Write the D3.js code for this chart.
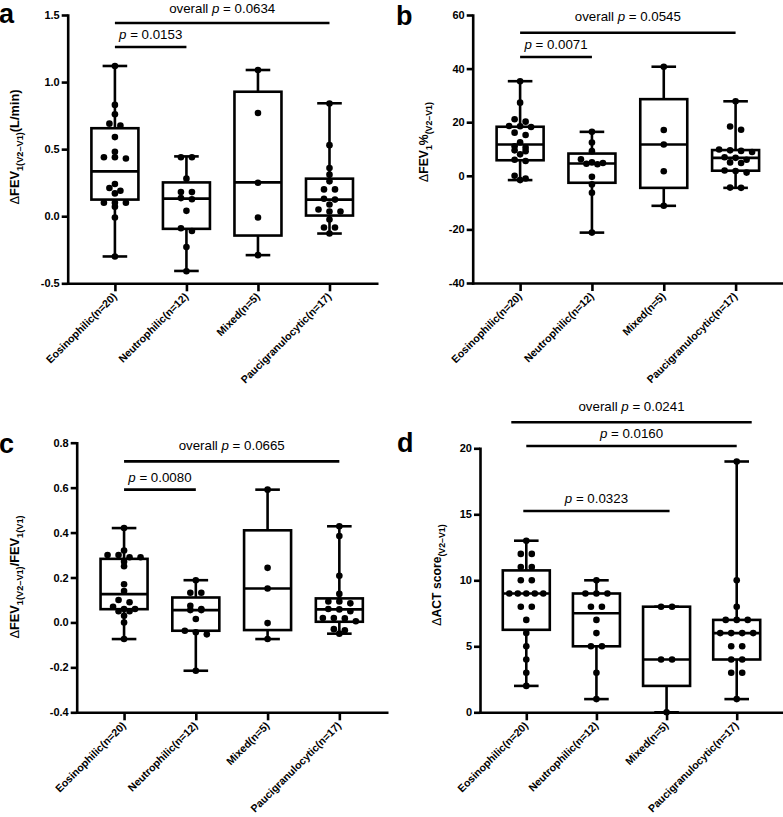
<!DOCTYPE html>
<html><head><meta charset="utf-8">
<script src="https://cdn.jsdelivr.net/npm/d3@7"></script>
<style>
body{margin:0;background:#fff}
svg{display:block}
text{font-family:"Liberation Sans",Arial,Helvetica,sans-serif;fill:#000}
</style></head><body>
<svg id="chart" width="783" height="817"></svg>
<script>
// ---------- DATA ----------
const categories = ["Eosinophilic(n=20)","Neutrophilic(n=12)","Mixed(n=5)","Paucigranulocytic(n=17)"];

// Panel a: ΔFEV1 (L/min)
const fev1Eos = [1.12,0.83,0.76,0.69,0.675,0.59,0.48,0.44,0.44,0.43,0.24,0.21,0.19,0.17,0.10,0.10,0.10,0.07,-0.01,-0.30];
const fev1Neu = [0.44,0.44,0.28,0.18,0.18,0.135,0.127,0.04,-0.09,-0.11,-0.23,-0.41];
const fev1Mix = [1.09,0.77,0.25,-0.01,-0.29];
const fev1Pau = [0.84,0.53,0.36,0.31,0.26,0.20,0.20,0.13,0.124,0.087,0.05,0.035,0.035,-0.025,-0.084,-0.084,-0.129];
// [min, q1, median, q3, max]
const fev1Box = [[-0.30,0.124,0.334,0.656,1.12],[-0.408,-0.094,0.131,0.252,0.446],[-0.29,-0.144,0.252,0.928,1.09],[-0.129,0.005,0.124,0.28,0.842]];
const fev1Ticks = [-0.5,0,0.5,1.0,1.5];
const fev1TickLabels = ["-0.5","0.0","0.5","1.0","1.5"];
const fev1Annot = [{from:0,to:3,y:1.44,overall:true,p:"0.0634",gap:10.4},{from:0,to:1,y:1.262,overall:false,p:"0.0153"}];

// Panel b: ΔFEV1 %
const pctEos = [35.3,27.3,21.1,20.2,18.6,18.5,18.2,16.1,15.2,12.5,11,10.5,9.5,9.2,8,6,5.5,0,-1,-1.6];
const pctNeu = [16.4,12.4,9.2,6.2,5,4.8,4.5,4.3,-0.4,-3.2,-6.3,-21.2];
const pctMix = [40.7,17.1,11.7,1.7,-11.2];
const pctPau = [27.8,18.4,17.2,9.8,9.5,9.3,8.9,6.9,6.7,6.0,5.0,4.8,2.0,1.8,1.2,-4.4,-4.5];
const pctBox = [[-1.6,5.8,11.7,18.3,35.3],[-21.2,-2.6,4.6,8.3,16.4],[-11.2,-4.5,11.7,28.6,40.7],[-4.5,1.9,6.7,9.6,27.8]];
const pctTicks = [-40,-20,0,20,40,60];
const pctTickLabels = ["-40","-20","0","20","40","60"];
const pctAnnot = [{from:0,to:3,y:53.4,overall:true,p:"0.0545"},{from:0,to:1,y:44.35,overall:false,p:"0.0071"}];

// Panel c: ΔFEV1/FEV1(V1)
const ratioEos = [0.42,0.32,0.30,0.30,0.29,0.29,0.27,0.25,0.17,0.14,0.10,0.09,0.07,0.06,0.06,0.05,0.05,0.03,0.00,-0.074];
const ratioNeu = [0.188,0.132,0.132,0.074,0.06,0.055,0.055,0.015,-0.037,-0.044,-0.053,-0.215];
const ratioMix = [0.591,0.243,0.151,-0.003,-0.074];
const ratioPau = [0.428,0.385,0.208,0.127,0.093,0.093,0.085,0.06,0.058,0.05,0.02,0.02,0.018,0.005,-0.03,-0.035,-0.05];
const ratioBox = [[-0.074,0.059,0.126,0.283,0.42],[-0.215,-0.037,0.055,0.111,0.188],[-0.074,-0.034,0.151,0.41,0.591],[-0.05,0.003,0.058,0.107,0.428]];
const ratioTicks = [-0.4,-0.2,0,0.2,0.4,0.6,0.8];
const ratioTickLabels = ["-0.4","-0.2","0.0","0.2","0.4","0.6","0.8"];
const ratioAnnot = [{from:0,to:3,y:0.717,overall:true,p:"0.0665"},{from:0,to:1,y:0.591,overall:false,p:"0.0080"}];

// Panel d: ΔACT score
const actEos = [13,12,12,11,11,10,10,9,9,9,9,9,8,8,7,6,5,4,3,2];
const actNeu = [10,9,9,9,8,8,7,6,5,5,3,1];
const actMix = [8,8,4,4,0];
const actPau = [19,10,8,7,7,7,6,6,6,6,5,5,4,4,3,3,1];
const actBox = [[2,6.25,9,10.75,13],[1,5,7.5,9,10],[0,2,4,8,8],[1,4,6,7,19]];
const actTicks = [0,5,10,15,20];
const actTickLabels = ["0","5","10","15","20"];
const actAnnot = [{from:0,to:3,y:21.97,overall:true,p:"0.0241",pad:15},{from:0,to:3,y:20.17,overall:false,p:"0.0160"},{from:0,to:2,y:15.25,overall:false,p:"0.0323",pad:3}];

// ---------- LAYOUT / STYLE ----------
const panels = [
  {key:"a", series:[fev1Eos,fev1Neu,fev1Mix,fev1Pau], boxes:fev1Box, ticks:fev1Ticks, tickLabels:fev1TickLabels, annots:fev1Annot,
   x0:67.7, x1:376.7, yTop:15, yBot:283.3, letter:[-1,23.3],
   ylabel:{x:18.5, y:147, fs:12.8, sfs:9.2, parts:[["Δ","d"],["FEV","m"],["1(V2–V1)","s"],["(L/min)","m"]]}},
  {key:"b", series:[pctEos,pctNeu,pctMix,pctPau], boxes:pctBox, ticks:pctTicks, tickLabels:pctTickLabels, annots:pctAnnot,
   x0:472.7, x1:783, yTop:15, yBot:283, letter:[396,25],
   ylabel:{x:427.5, y:142, fs:12.2, sfs:8.8, parts:[["Δ","d"],["FEV","m"],["1","s"],["%","m"],["(V2–V1)","s"]]}},
  {key:"c", series:[ratioEos,ratioNeu,ratioMix,ratioPau], boxes:ratioBox, ticks:ratioTicks, tickLabels:ratioTickLabels, annots:ratioAnnot,
   x0:76.7, x1:386.7, yTop:442.7, yBot:712.3, letter:[-1,453],
   ylabel:{x:18.5, y:577, fs:12.8, sfs:9.2, parts:[["Δ","d"],["FEV","m"],["1(V2–V1)","s"],["/FEV","m"],["1(V1)","s"]]}},
  {key:"d", series:[actEos,actNeu,actMix,actPau], boxes:actBox, ticks:actTicks, tickLabels:actTickLabels, annots:actAnnot,
   x0:480, x1:783, yTop:448.3, yBot:712.3, letter:[397,452],
   ylabel:{x:441, y:575, fs:12.2, sfs:8.8, parts:[["Δ","d"],["ACT score","m"],["(V2–V1)","s"]]}}
];

const SW = 2.6;          // stroke width
const BOX_HW = 23.5;     // half box width
const CAP_HW = 12.3;     // half cap width
const DOT_R = 3.3;
const ANNOT_FS = 13.3;

const svg = d3.select("#chart");

function swarm(values, yScale, spacing, thresh, maxSpread) {
  const sorted = values.map(v => ({v})).sort((a,b) => b.v - a.v);
  const clusters = [];
  sorted.forEach(p => {
    const last = clusters[clusters.length-1];
    if (last && Math.abs(yScale(p.v) - yScale(last[0].v)) < thresh) last.push(p);
    else clusters.push([p]);
  });
  const out = [];
  clusters.forEach(c => {
    const k = c.length;
    const s = k > 1 ? Math.min(spacing, maxSpread/(k-1)) : 0;
    c.forEach((p,j) => out.push({v:p.v, dx:(j-(k-1)/2)*s}));
  });
  return out;
}

panels.forEach(P => {
  const g = svg.append("g");
  const y = d3.scaleLinear().domain([P.ticks[0], P.ticks[P.ticks.length-1]]).range([P.yBot, P.yTop]);
  const x = d3.scalePoint().domain(categories).range([P.x0, P.x1]).padding(0.66);

  // boxes
  P.boxes.forEach((b, i) => {
    const cx = x(categories[i]);
    const [mn, q1, md, q3, mx] = b;
    const bg = g.append("g").attr("fill","none").attr("stroke","#000").attr("stroke-width",SW);
    bg.append("line").attr("x1",cx).attr("x2",cx).attr("y1",y(q3)).attr("y2",y(mx));
    bg.append("line").attr("x1",cx).attr("x2",cx).attr("y1",y(q1)).attr("y2",y(mn));
    bg.append("line").attr("x1",cx-CAP_HW).attr("x2",cx+CAP_HW).attr("y1",y(mx)).attr("y2",y(mx));
    bg.append("line").attr("x1",cx-CAP_HW).attr("x2",cx+CAP_HW).attr("y1",y(mn)).attr("y2",y(mn));
    bg.append("rect").attr("x",cx-BOX_HW).attr("width",2*BOX_HW).attr("y",y(q3)).attr("height",y(q1)-y(q3));
    bg.append("line").attr("x1",cx-BOX_HW).attr("x2",cx+BOX_HW).attr("y1",y(md)).attr("y2",y(md));
  });

  // axes
  const ya = d3.axisLeft(y).tickValues(P.ticks).tickFormat((d,i) => P.tickLabels[i]).tickSize(6).tickSizeOuter(0).tickPadding(2);
  const yg = g.append("g").attr("transform",`translate(${P.x0},0)`).call(ya);
  const xa = d3.axisBottom(x).tickSize(8).tickSizeOuter(0);
  const xg = g.append("g").attr("transform",`translate(0,${P.yBot})`).call(xa);
  [yg, xg].forEach(ax => {
    ax.select(".domain").attr("stroke","#000").attr("stroke-width",SW).attr("stroke-linecap","square");
    ax.selectAll(".tick line").attr("stroke","#000").attr("stroke-width",SW);
    ax.selectAll("text").attr("font-size",11).attr("font-weight","bold").attr("fill","#000")
      .style("font-family",'"Liberation Sans",Arial,Helvetica,sans-serif');
  });
  xg.selectAll(".tick text").attr("x",0).attr("y",0).attr("dy",0).attr("font-size",10.6)
    .attr("text-anchor","end").attr("transform","translate(2,14) rotate(-45)");

  // dots
  P.series.forEach((vals, i) => {
    const cx = x(categories[i]);
    g.append("g").selectAll("circle").data(swarm(vals, y, 11, 4, 34)).join("circle")
      .attr("cx", d => cx + d.dx).attr("cy", d => y(d.v)).attr("r", DOT_R).attr("fill","#000");
  });

  // annotations
  P.annots.forEach(a => {
    const pad = a.pad || 0;
    const xa0 = x(categories[a.from]) - pad, xa1 = x(categories[a.to]) + pad;
    const yy = y(a.y);
    g.append("line").attr("x1",xa0).attr("x2",xa1).attr("y1",yy).attr("y2",yy)
      .attr("stroke","#000").attr("stroke-width",SW);
    const gap = a.gap || (a.overall ? 11.5 : 8);
    const t = g.append("text").attr("x",(xa0+xa1)/2).attr("y", yy - gap)
      .attr("text-anchor","middle").attr("font-size",ANNOT_FS);
    if (a.overall) t.append("tspan").text("overall ");
    t.append("tspan").attr("font-style","italic").text("p");
    t.append("tspan").text(" = " + a.p);
  });

  // y label
  const L = P.ylabel;
  const yl = g.append("text").attr("transform",`translate(${L.x},${L.y}) rotate(-90)`)
    .attr("text-anchor","middle").attr("font-weight","bold").attr("font-size",L.fs);
  let shifted = false;
  L.parts.forEach(([txt, kind]) => {
    const ts = yl.append("tspan").text(txt);
    if (kind === "s") { ts.attr("font-size",L.sfs).attr("dy", shifted ? 0 : 4); shifted = true; }
    else {
      ts.attr("dy", shifted ? -4 : 0); shifted = false;
      if (kind === "d") ts.attr("font-weight","normal");
    }
  });

  // panel letter
  g.append("text").attr("x",P.letter[0]).attr("y",P.letter[1]).attr("font-size",27).attr("font-weight","bold").text(P.key);
});
</script>
</body></html>
